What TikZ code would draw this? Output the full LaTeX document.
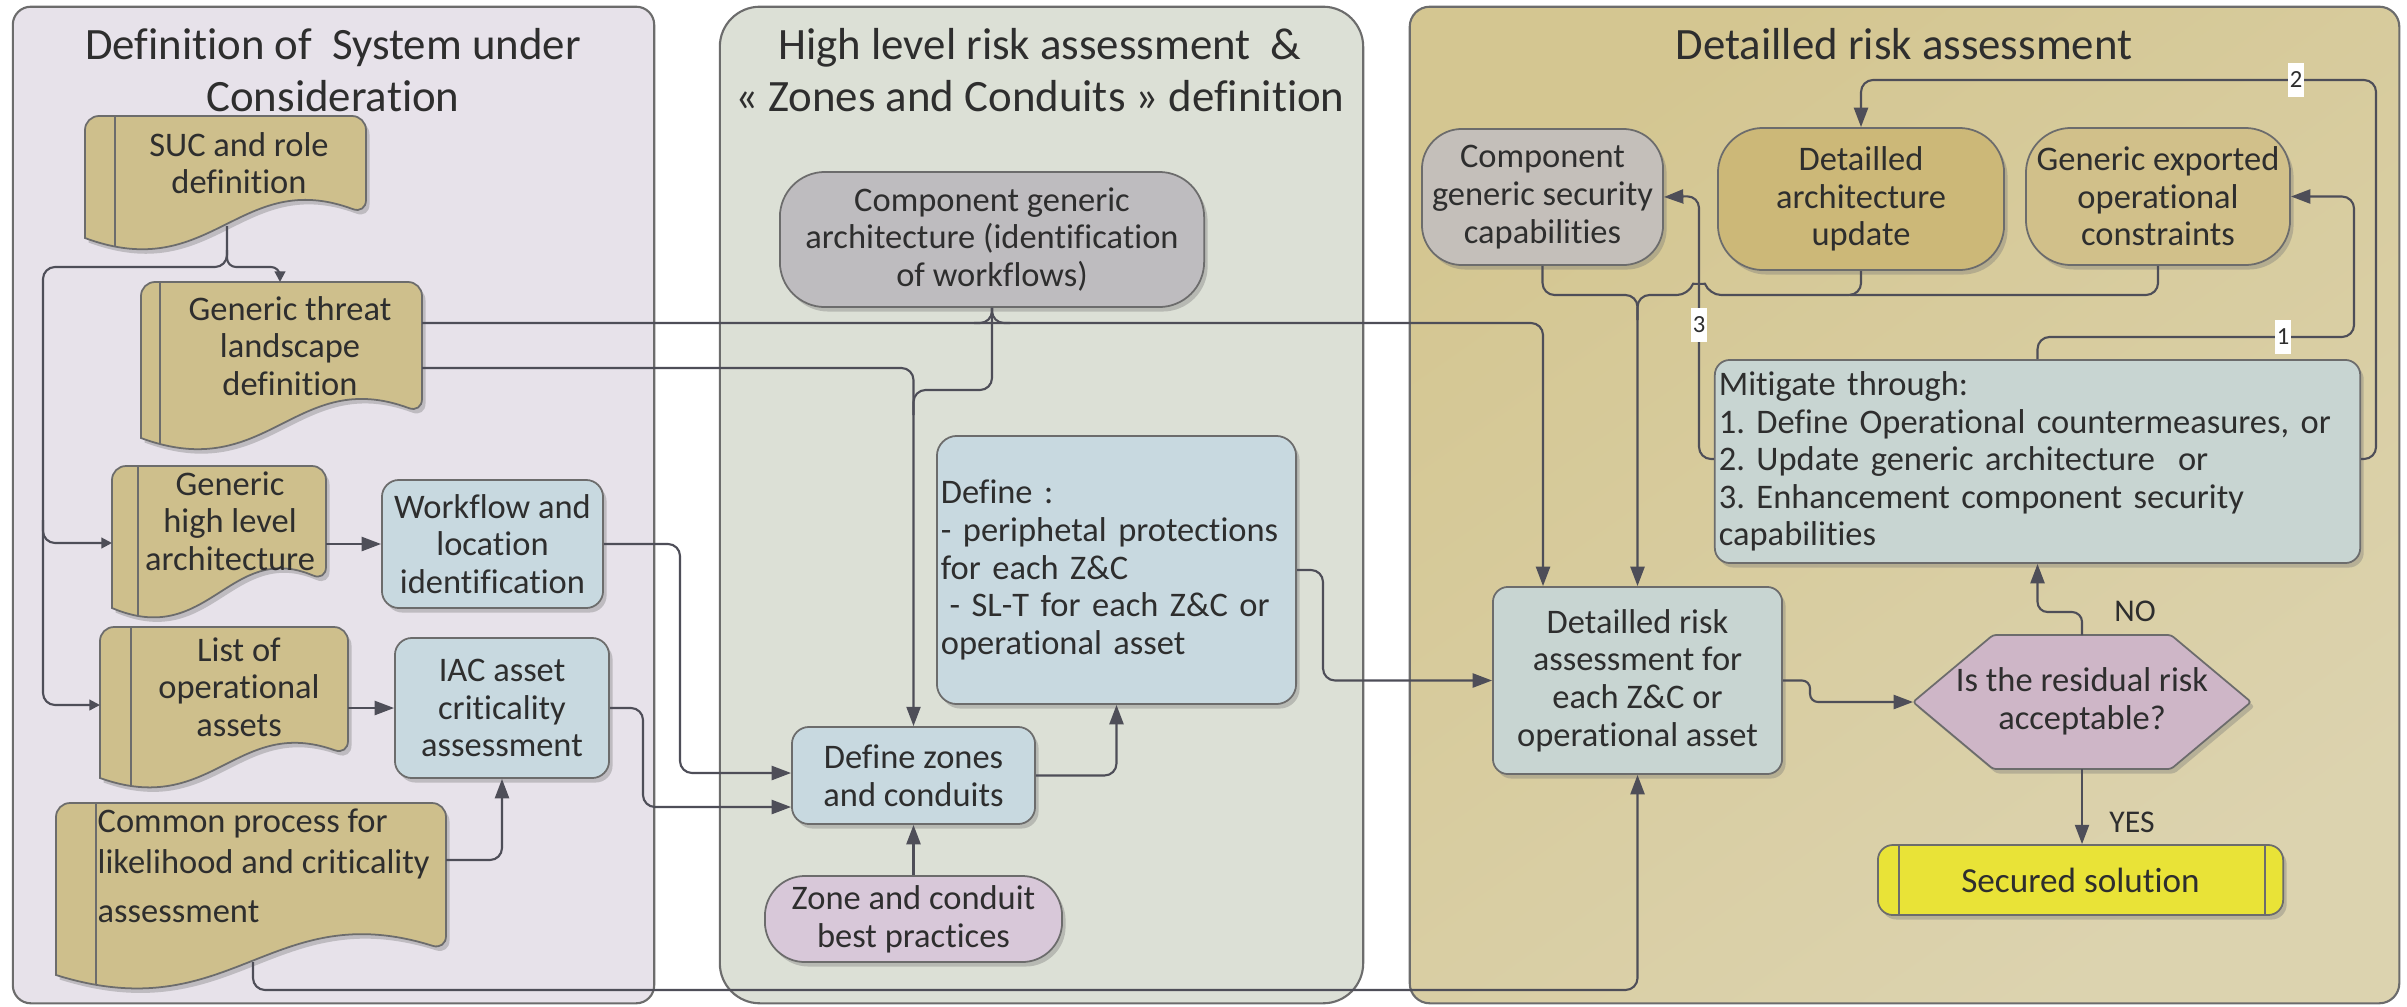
\documentclass[tikz,border=0pt]{standalone}
\usepackage{fontspec}
\setmainfont{Carlito}[Ligatures={NoCommon,NoContextual,NoRare}]
\frenchspacing
\usetikzlibrary{arrows.meta,shadows}
\definecolor{pA}{HTML}{E7E2EA}
\definecolor{pB}{HTML}{DCE0D6}
\definecolor{pC}{HTML}{D4C691}
\definecolor{pCl}{HTML}{DCD3AF}
\definecolor{docc}{HTML}{CEBF8C}
\definecolor{bluec}{HTML}{C8D9E0}
\definecolor{greyc}{HTML}{BEBCBF}
\definecolor{greyb}{HTML}{C4BFBA}
\definecolor{pinkc}{HTML}{D8C8D9}
\definecolor{hexc}{HTML}{CEB6C7}
\definecolor{goldc}{HTML}{CCB878}
\definecolor{tanc}{HTML}{D1C08A}
\definecolor{mitc}{HTML}{C8D5D2}
\definecolor{yelc}{HTML}{E9E337}
\definecolor{lnc}{HTML}{4E4E58}
\definecolor{bdc}{HTML}{6C6C6C}
\definecolor{txc}{HTML}{2E2E2E}
\newcommand\bodyfont{\fontsize{9.8}{10.7}\selectfont}
\newcommand\titlefont{\fontsize{12.75}{14.8}\selectfont}
\newcommand\docshape[7]{%
  \def\dsp{(#1,#4) [rounded corners=0.14cm] -- (#1,#2) -- (#3,#2) -- (#3,#5) [sharp corners] .. controls ({#1+0.55*(#3-#1)},{#5-#6}) and ({#1+0.45*(#3-#1)},{#4+#6}) .. (#1,#4) -- cycle}%
  \path[fill=docc, shadowed] \dsp;
  \begin{scope}\clip \dsp; \draw[draw=bdc, line width=0.5pt] (#7,#2) -- (#7,{#4+80});\end{scope}
  \draw[draw=bdc, line width=0.5pt] \dsp;
}
\begin{document}
\begin{tikzpicture}[x=0.01cm,y=-0.01cm,
  shadowed/.style={drop shadow={shadow xshift=0.035cm,shadow yshift=-0.045cm,opacity=0.35,fill=black!55}},
  panel/.style={draw=bdc, line width=0.6pt, inner sep=0pt},
  box/.style={draw=bdc, line width=0.5pt, rounded corners=0.17cm, align=center, inner sep=0.03cm, font=\bodyfont, text=txc, shadowed},
  lbox/.style={box, align=left, inner xsep=0.04cm},
  txt/.style={align=center, inner sep=0pt, font=\bodyfont, text=txc},
  ttl/.style={align=center, inner sep=0pt, font=\titlefont, text=txc},
  line/.style={draw=lnc, line width=0.6pt, rounded corners=0.12cm},
  conn/.style={line, -{Triangle[length=5.5pt,width=4pt]}},
  sconn/.style={line, -{Triangle[length=3pt,width=3pt]}},
  num/.style={fill=white, inner xsep=0.6pt, inner ysep=0pt, minimum height=0.34cm, font=\fontsize{7}{8}\selectfont, text=txc},
  yn/.style={inner sep=0pt, font=\fontsize{9}{10}\selectfont, text=txc}
]
\useasboundingbox (0,0) rectangle (2407,1006);
\fill[white] (0,0) rectangle (2407,1006);

% panels
\node[panel, fill=pA, rounded corners=0.18cm, minimum width=6.41cm, minimum height=9.96cm] (p1) at (333.5,505) {};
\node[panel, fill=pB, rounded corners=0.4cm, minimum width=6.43cm, minimum height=9.96cm] (p2) at (1041.5,505) {};
\node[panel, top color=pC, bottom color=pCl, shading angle=35, rounded corners=0.2cm, minimum width=9.89cm, minimum height=9.96cm] (p3) at (1904.5,505) {};

\node[ttl] (t1) at (333,70) {Definition of\ \ System under\\Consideration};
\node[ttl] (t2) at (1040,70) {High level risk assessment\ \ \&\\« Zones and Conduits » definition};
\node[ttl] (t3) at (1904,44) {Detailled risk assessment};

% document shapes
\docshape{85}{116}{366}{238}{214}{47}{115}
\docshape{141}{282}{422}{438}{413}{47}{160}
\docshape{112}{466}{326}{608}{581}{41}{138}
\docshape{100}{627}{348}{778}{755}{40}{131}
\docshape{56}{803}{446}{975}{950}{55}{96}
\node[txt] (suc) at (239,163) {SUC and role\\definition};
\node[txt] (gt) at (290,346) {Generic threat\\landscape\\definition};
\node[txt] (gha) at (230,521) {Generic\\high level\\architecture};
\node[txt] (loa) at (239,687) {List of\\operational\\assets};
\node[txt, align=left, anchor=west, font=\fontsize{9.8}{11.7}\selectfont] (cp) at (97,866) {Common process for\\likelihood and criticality\\[2.3pt]assessment};

\coordinate (sucB) at (227,226);
\coordinate (gtT) at (280,282);
\coordinate (gtR1) at (422,323);
\coordinate (gtR2) at (422,368);
\coordinate (ghaL) at (112,543);
\coordinate (ghaR) at (326,544);
\coordinate (loaL) at (100,705);
\coordinate (loaR) at (348,708);
\coordinate (cpR) at (446,860);
\coordinate (cpB) at (253,962);

% boxes
\node[box, fill=bluec, minimum width=2.21cm, minimum height=1.28cm] (wf) at (492.5,544) {Workflow and\\location\\identification};
\node[box, fill=bluec, minimum width=2.14cm, minimum height=1.40cm] (iac) at (502,708) {IAC asset\\criticality\\assessment};
\node[box, fill=greyc, rounded corners=0.45cm, minimum width=4.24cm, minimum height=1.35cm] (cga) at (992,239.5) {Component generic\\architecture (identification\\of workflows)};
\node[lbox, fill=bluec, rounded corners=0.2cm, text width=3.51cm, minimum height=2.68cm] (def) at (1116.5,570) {Define :\\- periphetal protections\\for each Z\&C\\\hspace*{0.25em}- SL-T for each Z\&C or\\operational asset};
\node[box, fill=bluec, minimum width=2.43cm, minimum height=0.97cm] (dz) at (913.5,775.5) {Define zones\\and conduits};
\node[box, fill=pinkc, rounded corners=0.4cm, minimum width=2.97cm, minimum height=0.86cm] (zbp) at (913.5,919) {Zone and conduit\\best practices};
\node[box, fill=greyb, rounded corners=0.4cm, minimum width=2.41cm, minimum height=1.36cm] (cgs) at (1542.5,197) {Component\\generic security\\capabilities};
\node[box, fill=goldc, rounded corners=0.45cm, minimum width=2.86cm, minimum height=1.42cm] (dau) at (1861,199) {Detailled\\architecture\\update};
\node[box, fill=tanc, rounded corners=0.45cm, minimum width=2.64cm, minimum height=1.37cm] (geo) at (2158,196.5) {Generic exported\\operational\\constraints};
\node[lbox, fill=mitc, rounded corners=0.15cm, text width=6.37cm, minimum height=2.03cm] (mit) at (2037.5,461.5) {Mitigate through:\\1. Define Operational countermeasures, or\\2. Update generic architecture\ \ or\\3. Enhancement component security\\capabilities};
\node[box, fill=mitc, rounded corners=0.15cm, minimum width=2.89cm, minimum height=1.87cm] (drk) at (1637.5,680.5) {Detailled risk\\assessment for\\each Z\&C or\\operational asset};

% hexagon
\coordinate (hexL) at (1913,702);
\coordinate (hexT) at (2082,635);
\coordinate (hexB) at (2082,769);
\draw[draw=bdc, line width=0.5pt, fill=hexc, rounded corners=0.03cm, shadowed] (hexL) -- (1993,635) -- (2171,635) -- (2251,702) -- (2171,769) -- (1993,769) -- cycle;
\node[txt] (hex) at (2082,701) {Is the residual risk\\acceptable?};

% secured solution
\node[box, fill=yelc, rounded corners=0.15cm, minimum width=4.05cm, minimum height=0.70cm, font=\fontsize{10}{11}\selectfont] (sec) at (2080.5,880) {Secured solution};
\draw[draw=bdc, line width=0.5pt] ([xshift=0.22cm]sec.north west) -- ([xshift=0.22cm]sec.south west);
\draw[draw=bdc, line width=0.5pt] ([xshift=-0.19cm]sec.north east) -- ([xshift=-0.19cm]sec.south east);

% connectors, left panel
\draw[sconn] (sucB) -- (227,267) -- (43,267) -- (43,705) -- (loaL);
\draw[sconn] (43,520) -- (43,543) -- (ghaL);
\draw[sconn, rounded corners=0.09cm] (227,250) -- (227,267) -- (280,267) -- (gtT);
\draw[conn] (ghaR) -- (wf.west);
\draw[conn] (loaR) -- (iac.west);
\draw[conn] (cpR) -| (iac.south);
\draw[conn] (wf.east) -| (680,773) -- (dz.west |- 0,773);
\draw[conn] (iac.east) -| (643,807) -- (dz.west |- 0,807);
\draw[conn] (cpB) -- (253,990) -| (drk.south);

% threat lines and component architecture
\draw[conn] (gtR1) -- (1543,323) -- (drk.north -| 1543,0);
\draw[conn] (gtR2) -- (dz.north |- gtR2) -- (dz.north);
\draw[line] (cga.south) -- (cga.south |- 0,390) -- (913.5,390) -- (913.5,415);
\draw[line] (974,323) -- (992,323) -- (cga.south);
\draw[line] (1010,323) -- (992,323) -- (cga.south);

% middle panel
\draw[conn] (dz.east) -| (def.south);
\draw[conn] (zbp.north) -- (dz.south);
\draw[conn] (def.east) -| (1323,680.5) -- (drk.west);

% right panel
\draw[conn] (cgs.south) |- (1637.5,295) -- (drk.north);
\draw[line] (dau.south) |- (1709,295) .. controls (1705,284) and (1693,284) .. (1689,295) -- (1637.5,295) -- (1637.5,320);
\draw[line] (geo.south) |- (1850,295);
\draw[conn] (mit.west |- 0,459) -- (1699,459) -- (1699,196) -- (cgs.east);
\draw[conn] (mit.east |- 0,459) -- (2376,459) -- (2376,80) -- (dau.north |- 0,80) -- (dau.north);
\draw[conn] (mit.north) -- (mit.north |- 0,337) -- (2354,337) -- (2354,196.5) -- (geo.east);
\draw[conn, rounded corners=0.08cm] (drk.east) -- (1810,680.5) -- (1810,702) -- (hexL);
\draw[conn, rounded corners=0.1cm] (hexT) -- (hexT |- 0,612) -- (mit.south |- 0,612) -- (mit.south);
\draw[conn] (hexB) -- (hexB |- sec.north);

\node[num] (n3) at (1699,325) {3};
\node[num] (n2) at (2296,80) {2};
\node[num] (n1) at (2283,337) {1};
\node[yn] (no) at (2135,611) {NO};
\node[yn] (yes) at (2132,822) {YES};
\end{tikzpicture}
\end{document}
